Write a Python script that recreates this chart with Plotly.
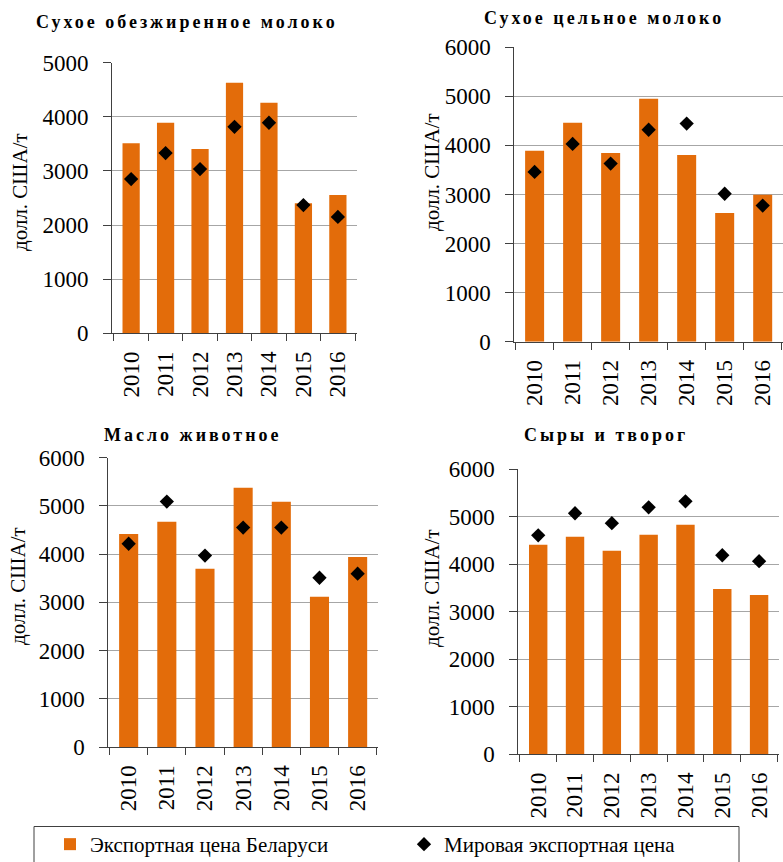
import plotly.graph_objects as go

W, H = 783, 862

years = ["2010", "2011", "2012", "2013", "2014", "2015", "2016"]

titles = ["Сухое обезжиренное молоко", "Сухое цельное молоко",
          "Масло животное", "Сыры и творог"]

# Export price of Belarus (bars), USD/t
belarus_smp = [3510, 3890, 3405, 4630, 4260, 2405, 2555]
belarus_wmp = [3890, 4460, 3845, 4950, 3805, 2625, 2995]
belarus_butter = [4420, 4670, 3695, 5375, 5085, 3115, 3940]
belarus_cheese = [4410, 4580, 4285, 4620, 4830, 3480, 3355]

# World export price (diamonds), USD/t
world_smp = [2850, 3330, 3035, 3815, 3890, 2370, 2150]
world_wmp = [3460, 4030, 3630, 4320, 4445, 3015, 2775]
world_butter = [4215, 5090, 3970, 4550, 4550, 3510, 3595]
world_cheese = [4610, 5075, 4865, 5200, 5325, 4190, 4065]

ymax = [5000, 6000, 6000, 6000]

bar_name = "Экспортная цена Беларуси"
dot_name = "Мировая экспортная цена"
ytitle = "долл. США/т"

ORANGE = "#E36C0A"
FONT = "Liberation Serif"

# plot-area boxes in pixels: (x0, x1, ytop, ybottom)
boxes = [(112, 357, 62.7, 333.3),
         (514.3, 783, 47.3, 341.7),
         (108.3, 378, 457.7, 747),
         (518.3, 779, 469.3, 754.3)]
title_pos = [(187, 22), (604, 18), (193, 435), (606, 435)]
ytitle_pos = [(20, 192), (432, 172), (18, 586), (432, 588)]

bars = [belarus_smp, belarus_wmp, belarus_butter, belarus_cheese]
dots = [world_smp, world_wmp, world_butter, world_cheese]

fig = go.Figure()
layout = dict(width=W, height=H, margin=dict(l=0, r=0, t=0, b=0, autoexpand=False),
              paper_bgcolor="white", plot_bgcolor="rgba(0,0,0,0)",
              font=dict(family=FONT, color="black"),
              showlegend=True, bargap=0.5)

annotations = []
shapes = []

for i in range(4):
    k = "" if i == 0 else str(i + 1)
    x0, x1, yt, yb = boxes[i]
    fig.add_trace(go.Bar(x=years, y=bars[i], name=bar_name, marker_color=ORANGE,
                         marker_line_width=0, xaxis="x" + k, yaxis="y" + k,
                         showlegend=(i == 0), legendrank=1))
    fig.add_trace(go.Scatter(x=years, y=dots[i], name=dot_name, mode="markers",
                             marker=dict(symbol="diamond", size=11, color="black"),
                             xaxis="x" + k, yaxis="y" + k,
                             showlegend=(i == 0), legendrank=2))
    layout["xaxis" + k] = dict(domain=[x0 / W, x1 / W], anchor="y" + k,
                               type="category", showline=True, linecolor="#404040",
                               linewidth=1, ticks="outside", tickson="boundaries",
                               ticklen=7, tickcolor="#404040", tickangle=-90,
                               tickfont=dict(size=23, family=FONT),
                               ticklabelstandoff=8, showgrid=False, automargin=False)
    layout["yaxis" + k] = dict(domain=[1 - yb / H, 1 - yt / H], anchor="x" + k,
                               range=[0, ymax[i]], dtick=1000, showline=True,
                               linecolor="#404040", linewidth=1, ticks="outside",
                               ticklen=8, tickcolor="#404040",
                               tickfont=dict(size=23, family=FONT),
                               ticklabelstandoff=10, showgrid=True,
                               gridcolor="#A6A6A6", gridwidth=1, zeroline=False,
                               automargin=False)
    tx, ty = title_pos[i]
    annotations.append(dict(x=tx / W, y=1 - ty / H, xref="paper", yref="paper",
                            text='<b><span style="letter-spacing:3px">' + titles[i] + "</span></b>",
                            showarrow=False, xanchor="center", yanchor="middle",
                            font=dict(size=18, family=FONT)))
    ax, ay = ytitle_pos[i]
    annotations.append(dict(x=ax / W, y=1 - ay / H, xref="paper", yref="paper",
                            text=ytitle, textangle=-90, showarrow=False,
                            xanchor="center", yanchor="middle",
                            font=dict(size=21, family=FONT)))

# legend box
shapes.append(dict(type="rect", xref="paper", yref="paper",
                   x0=34 / W, x1=739 / W, y0=-0.05, y1=1 - 826.5 / H,
                   line=dict(color="#404040", width=1), fillcolor="rgba(0,0,0,0)"))

layout["annotations"] = annotations
layout["shapes"] = shapes
layout["legend"] = dict(orientation="h", x=50 / W, y=1 - 824 / H, xanchor="left",
                        yanchor="top", font=dict(size=21, family=FONT),
                        entrywidth=309, entrywidthmode="pixels",
                        bgcolor="rgba(0,0,0,0)", itemclick=False)
fig.update_layout(**layout)
fig.write_html("out.html", config={"displayModeBar": False},
               post_script="document.body.style.margin='0px';document.body.style.overflow='hidden';")
